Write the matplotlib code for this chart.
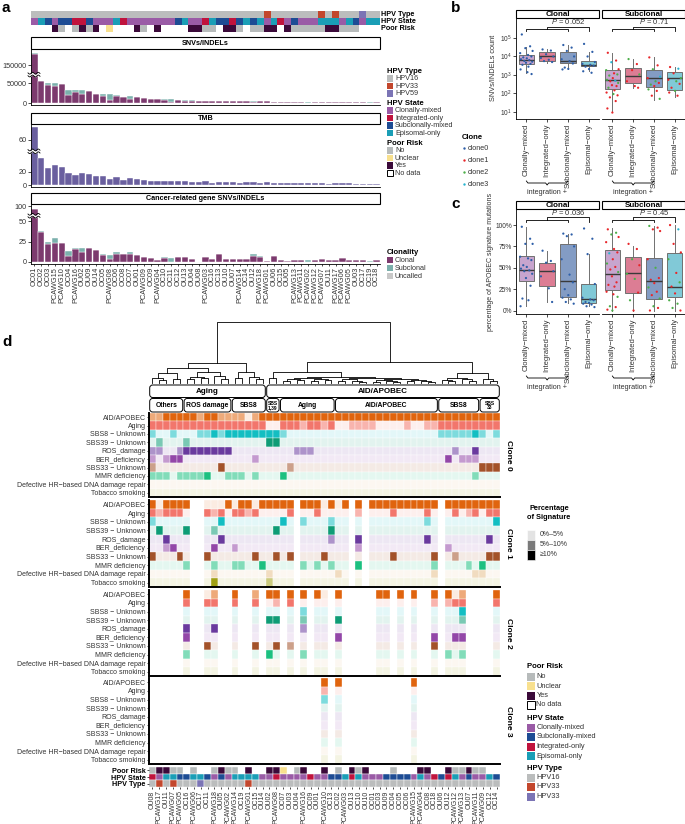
import numpy as np
import matplotlib
matplotlib.use('Agg')
import matplotlib.pyplot as plt
from matplotlib.patches import Rectangle, FancyBboxPatch
from matplotlib.colors import to_rgb, to_rgba

plt.rcParams['font.family'] = ['Liberation Sans', 'DejaVu Sans']
plt.rcParams['mathtext.fontset'] = 'custom'
plt.rcParams['mathtext.rm'] = 'Liberation Sans'
plt.rcParams['mathtext.it'] = 'Liberation Sans:italic'
plt.rcParams['axes.linewidth'] = 0.6

# ---------------- panel a data ----------------
A_SAMPLES = ['OC01', 'OC02', 'OC03', 'PCAWG15', 'PCAWG10', 'OC04', 'PCAWG16', 'OU02', 'OU09', 'OU14',
             'OC05', 'PCAWG08', 'OC06', 'OC08', 'OC07', 'OU01', 'PCAWG09', 'OC09', 'PCAWG04', 'OC10',
             'OC11', 'OC12', 'OU13', 'OU04', 'OU08', 'PCAWG03', 'OC16', 'OC13', 'OU10', 'OU07',
             'PCAWG14', 'OC14', 'OU12', 'PCAWG18', 'PCAWG01', 'OU06', 'OC15', 'OU05', 'PCAWG13', 'PCAWG11',
             'PCAWG02', 'PCAWG12', 'PCAWG07', 'OU11', 'PCAWG17', 'PCAWG06', 'PCAWG05', 'OU03', 'OC17', 'OC19', 'OC18']
A_SNV_CLONAL = [235000, 55000, 45800, 43300, 47500, 19000, 27500, 21600, 29000, 22500,
                16700, 6700, 17500, 15000, 10800, 14000, 12500, 10800, 10800, 7500,
                3300, 6700, 5800, 5800, 5500, 5500, 5300, 5000, 5000, 4800,
                4500, 4400, 3500, 3800, 4000, 3700, 3500, 3000, 3200, 3000,
                800, 2700, 2500, 2400, 2300, 2200, 2000, 1800, 1600, 400, 1300]
A_SNV_SUB = [13000, 0, 5000, 7500, 0, 14000, 4000, 10000, 0, 0,
             6600, 16600, 1500, 0, 5900, 800, 0, 0, 0, 3300,
             7500, 1600, 1000, 500, 0, 300, 0, 500, 0, 0,
             0, 0, 1200, 500, 0, 0, 0, 200, 0, 0,
             2000, 0, 0, 0, 0, 0, 0, 0, 0, 1100, 0]
A_TMB = [72, 40, 25, 30, 27.5, 17.5, 15, 17.5, 17, 13.5,
         13.5, 9, 11.5, 7.5, 10, 9, 8, 6.5, 6, 6,
         5.5, 5.5, 5.5, 5, 4.5, 6.5, 3.2, 4.5, 4.5, 4,
         3.5, 4, 4, 3.5, 4.5, 3.5, 3.2, 3.2, 3, 3,
         2.5, 2.8, 2.8, 2.2, 2.8, 2.5, 2.5, 2.2, 2.2, 2, 1.8]
A_CG_CLONAL = [88, 37, 22.5, 23.5, 24, 7, 15.5, 12, 17.5, 14.5,
               8.5, 3.5, 10, 10, 10.4, 8, 5.8, 5, 2, 5,
               0.5, 6, 5.8, 4, 0, 5.8, 4, 10, 4, 4,
               4, 4, 7, 5.8, 1, 7, 3, 0.8, 3, 2,
               0, 2, 4, 3, 3, 5, 2, 2, 3, 0, 3]
A_CG_SUB = [0, 1, 2.5, 5.5, 0, 6, 2, 5, 0, 0,
            1.5, 5.5, 1.7, 0, 1.3, 0, 0, 0, 0, 0.8,
            4.5, 0.3, 0, 0, 0, 0, 0, 0, 0, 0,
            0, 0, 2.6, 1.2, 0, 0, 0, 0, 0, 0,
            2, 0, 0, 0, 0, 0, 0, 0, 0, 1, 0]
A_HPV_TYPE = '1111111111' '1111111111' '1111111111' '1111311111' '1131311151' '1'
A_HPV_STATE = 'CESCSSIISC' 'CCEICCCCCC' 'CSECCIESSI' 'SESECEICSC' 'CCEEECESCEE'
A_POOR_RISK = '---YN-NYNY' '-U---YN-Y-' '---YYNN-YY' 'N-NNYY-YNN' 'NNNYYNNN---'

# ---------------- panel b / c data ----------------
GROUPS = ['Clonally\u2212mixed', 'Integrated\u2212only', 'Subclonally\u2212mixed', 'Episomal\u2212only']
# box stats: (whisker low, q1, median, q3, whisker high); panel b in log10 counts
B_CLONAL_STATS = [(3.10, 3.60, 3.80, 4.07, 4.52), (3.66, 3.78, 4.00, 4.26, 4.38),
                  (3.34, 3.64, 3.78, 4.26, 4.64), (3.20, 3.48, 3.55, 3.78, 4.26)]
B_CLONAL_PTS = [[5.19, 4.55, 4.45, 4.30, 4.18, 4.08, 4.00, 3.95, 3.90, 3.85, 3.80, 3.76, 3.72, 3.66, 3.60, 3.55, 3.45, 3.30, 3.15, 3.05],
                [4.38, 4.32, 4.12, 4.00, 3.92, 3.82, 3.70, 3.75],
                [4.62, 4.48, 4.30, 4.00, 3.85, 3.75, 3.62, 3.40, 3.33, 3.30],
                [4.68, 4.25, 4.00, 3.70, 3.60, 3.55, 3.50, 3.45, 3.32, 3.20, 3.12]]
B_CLONAL_CLONE = ['0' * 20, '0' * 8, '0' * 10, '0' * 11]
B_SUB_STATS = [(0.98, 2.22, 2.71, 3.26, 4.20), (2.30, 2.57, 2.97, 3.40, 3.86),
               (1.67, 2.36, 2.83, 3.29, 3.95), (1.80, 2.19, 2.83, 3.14, 3.45)]
B_SUB_PTS = [[4.20, 3.78, 3.69, 3.31, 3.26, 3.09, 3.03, 2.97, 2.83, 2.74, 2.69, 2.66, 2.57, 2.45, 2.40, 2.31, 2.17, 2.05, 1.97, 1.90, 1.79, 1.59, 1.19, 0.97],
             [3.86, 3.59, 3.26, 3.03, 2.66, 2.40, 2.31],
             [3.95, 3.52, 3.31, 2.91, 2.83, 2.66, 2.57, 2.48, 2.40, 2.22, 2.14, 1.88, 1.71],
             [3.43, 3.34, 3.09, 2.83, 2.74, 2.66, 2.52, 2.31, 2.14, 2.05, 1.88]]
B_SUB_CLONE = ['113121221231211211211111', '2112111', '1123121212112', '13121211211']
B_P = ['0.052', '0.71']

C_CLONAL_STATS = [(5, 34.5, 47, 64, 98), (10, 29, 46, 56, 70), (9, 16, 35, 78, 89), (5, 9, 13, 31, 66)]
C_CLONAL_PTS = [[98, 84, 78, 78, 63, 61, 59, 53, 51, 49, 47, 46, 43, 38, 29, 14, 12, 5],
                [70, 58, 56, 46, 40, 26, 10],
                [90, 89, 87, 75, 60, 42, 33, 25, 18, 15, 13, 10, 8],
                [96, 84, 66, 31, 15, 13, 12, 10, 9, 8, 7, 5, 4]]
C_CLONAL_CLONE = ['0' * 18, '0' * 7, '0' * 13, '0' * 13]
C_SUB_STATS = [(0, 24, 43, 71, 96), (0, 21, 44, 63, 76), (0, 14, 35, 62, 99), (0, 16, 28, 67, 100)]
C_SUB_PTS = [[95, 91, 89, 86, 80, 72, 68, 67, 60, 55, 51, 48, 45, 40, 33, 30, 28, 22, 19, 16, 5, 4, 1, 0],
             [78, 72, 60, 53, 43, 37, 21, 12, 0],
             [99, 97, 95, 93, 60, 50, 38, 36, 32, 27, 22, 18, 14, 5, 3, 0],
             [100, 95, 78, 68, 60, 44, 33, 28, 20, 12, 8, 3, 0]]
C_SUB_CLONE = ['122111131211211111122112', '112122121', '2111121112112211', '1311212112221']
C_P = ['0.036', '0.45']

# ---------------- panel d data ----------------
D_SAMPLES = ['OU08', 'PCAWG17', 'OU11', 'PCAWG07', 'PCAWG05', 'OC16', 'PCAWG06', 'OC17', 'OC11', 'PCAWG18',
             'OU05', 'PCAWG02', 'PCAWG14', 'OC19', 'PCAWG01', 'OC15', 'OU14', 'OU02', 'PCAWG08', 'OC07',
             'OU03', 'OU04', 'PCAWG16', 'OC09', 'OU01', 'PCAWG10', 'OC13', 'OC02', 'PCAWG03', 'OU13',
             'OC10', 'OU10', 'OC01', 'OC03', 'OU09', 'OC04', 'OC05', 'OC06', 'PCAWG15', 'PCAWG04',
             'OC08', 'OC18', 'OU06', 'OU12', 'PCAWG12', 'PCAWG13', 'OU07', 'PCAWG11', 'PCAWG09', 'OC12', 'OC14']
D_GROUPS = ['Aging', 'AID/APOBEC']
D_GROUP_N = [17, 34]
D_SUB = ['Others', 'ROS damage', 'SBS8', 'SBS\n1,39', 'Aging', 'AID/APOBEC', 'SBS8', 'SBS\n33']
D_SUB_N = [5, 7, 5, 2, 8, 15, 6, 3]
SIGS = ['AID/APOBEC', 'Aging', 'SBS8 \u2212 Unknown', 'SBS39 \u2212 Unknown', 'ROS_damage', 'BER_deficiency',
        'SBS33 \u2212 Unknown', 'MMR deficiency', 'Defective HR\u2212based DNA damage repair', 'Tobacco smoking']
# levels: 1 = 0-5%, 2 = 5-10%, 3 = >=10%, '.' = clone absent in sample
CLONE0 = ['2233333233' '2222123333' '3333333333' '3333333333' '33333333333',
          '3333333333' '3333333113' '3323323112' '2221111211' '22333333333',
          '2112111223' '2333333332' '1111111111' '1111111111' '11222223212',
          '1211121111' '1111111331' '1111111111' '1111111111' '11111111111',
          '2211233333' '3311111111' '1222111111' '1111111111' '11112113111',
          '2123311111' '1111121111' '1111111111' '1111111111' '11131222111',
          '2111111111' '3111111111' '2111111111' '1111111111' '11111111333',
          '2221222231' '1222121113' '1111111111' '1111111111' '11111112111',
          '1' * 51,
          '1' * 51]
CLONE1 = ['313333..11' '1313313333' '3.3331313.' '3.33333333' '33.33333333',
          '323331..32' '3133231111' '3.1131111.' '2.11131111' '31.13123133',
          '211111..11' '3111111113' '1.2111211.' '1.11111111' '21.11111113',
          '131113..12' '1111111131' '1.1111311.' '1.11111111' '11.11111111',
          '113111..11' '3111111111' '1.1111211.' '3.11111111' '31.11111131',
          '112311..13' '1121111111' '1.1111111.' '2.11111111' '11.21111111',
          '311131..31' '1111131131' '3.1113111.' '1.11131111' '13.12111133',
          '111112..12' '1122113111' '1.2121211.' '3.11111111' '12.11121311',
          '111111..12' '1111111211' '1.1111121.' '1.11111111' '12.11112211',
          '111111..13' '1111111211' '1.1111111.' '1.11111111' '11.11111111']
CLONE2_MASK = '.....x..xx' '..x..x.xx.' 'x.x.xx.x..' '...xx.x.x.' '.x.xxx....x'
CLONE2 = [{5: 3, 8: 1, 9: 2, 12: 3, 15: 2, 17: 3, 18: 3, 20: 3, 22: 3, 24: 3, 25: 1, 27: 3,
           33: 3, 34: 3, 36: 3, 38: 3, 41: 3, 43: 3, 44: 1, 45: 2, 50: 3},
          {5: 3, 8: 3, 9: 3, 12: 3, 15: 3, 18: 2, 20: 3, 41: 2, 43: 2, 44: 3, 45: 3, 50: 3},
          {22: 2, 45: 3},
          {17: 3, 18: 3, 22: 2, 27: 3, 45: 2},
          {5: 3, 9: 3, 22: 2},
          {5: 3, 27: 3, 41: 3, 44: 3, 45: 3},
          {8: 3, 15: 3, 18: 3, 20: 2, 41: 3},
          {5: 2, 17: 3, 22: 2, 43: 2, 45: 2},
          {}, {}]
CLONE3_MASK = '..........' '..........' '.....x.x..' '........x.' '...........'
CLONE3 = [{25: 3, 27: 3, 38: 3}, {25: 2}, {25: 2}, {}, {}, {}, {}, {}, {}, {}]
D_POOR_RISK = 'NYYNN-N--N' 'YNN-Y--YYU' '-NY--Y-N-Y' 'NY---N---Y' 'Y--YNNYNN--'
D_HPV_STATE = 'ICEESSEESC' 'SCEEEECCIC' 'CCCICCSSEI' 'ECCCSSSSCE' 'CISIECSCCES'
D_HPV_TYPE = '1313111511' '1111311111' '1111111111' '1111111111' '11111111111'

# dendrogram: (merge height, left, right); None = leaf
L = None
T_OTHERS = (0.16, (0.09, L, (0.05, L, L)), (0.07, L, L))
T_ROS = (0.18, (0.10, (0.06, L, L), (0.08, L, L)), (0.12, L, (0.07, L, L)))
T_SBS8A = (0.18, (0.08, L, L), (0.10, L, (0.06, L, L)))
T_SBS139 = (0.08, L, L)
T_AGING = (0.09, (0.07, (0.04, L, L), (0.05, L, L)), (0.06, (0.03, L, L), (0.05, L, L)))
T_AID = (0.08, (0.06, (0.03, L, L), (0.04, L, (0.02, L, L))),
         (0.07, (0.05, (0.02, L, L), (0.03, L, (0.015, L, L))), (0.05, (0.03, L, L), (0.04, L, (0.02, L, L)))))
T_SBS8B = (0.09, (0.05, L, (0.03, L, L)), (0.06, L, (0.04, L, L)))
T_SBS33 = (0.07, L, (0.04, L, L))
TREE = (1.0, (0.33, (0.25, T_OTHERS, T_ROS), T_SBS8A),
        (0.34, (0.18, T_SBS139, (0.10, T_AGING, T_AID)), (0.16, T_SBS8B, T_SBS33)))

# ---------------- colours ----------------
TYPE_COL = {'1': '#BBBDBD', '3': '#C3472D', '5': '#7B74B5'}
STATE_COL = {'C': '#9A5BA6', 'I': '#C0133D', 'S': '#1D4C94', 'E': '#1A9EB6'}
RISK_COL = {'N': '#B7BBBB', 'U': '#F8E08E', 'Y': '#3B0A3A', '-': None}
STATE_ORDER = ['C', 'I', 'S', 'E']
CLONE_COL = ['#2E5FA8', '#E8262A', '#4DAF4A', '#27B4D0']
CLONAL_C, SUBCLONAL_C, UNCALLED_C = '#7C3A6E', '#7BB0AC', '#C8C8C8'
TMB_C = '#6A5F9F'
SIG_FULL = ['#E0640E', '#F2766C', '#13BEC2', '#0E9C76', '#6A3A9E', '#9347A8', '#A3522A', '#1CC080', '#E6BF8C', '#A0A014']
JIT = [-0.22, 0.18, -0.05, 0.3, -0.3, 0.08, 0.24, -0.15, 0.02, -0.26, 0.14, -0.1, 0.28, -0.02,
       0.2, -0.19, 0.1, -0.28, 0.05, 0.25, -0.12, 0.16, -0.24, 0.0]
TXT = '#333333'

W, H = 685, 824
fig = plt.figure(figsize=(W / 100, H / 100), dpi=100)
ov = fig.add_axes([0, 0, 1, 1], zorder=20)
ov.set_xlim(0, W)
ov.set_ylim(H, 0)
ov.axis('off')


def add_ax(x0, y0, x1, y1):
    return fig.add_axes([x0 / W, 1 - y1 / H, (x1 - x0) / W, (y1 - y0) / H])


def strip(x0, y0, x1, y1, label, fs=5.2):
    ov.add_patch(Rectangle((x0, y0), x1 - x0, y1 - y0, fc='white', ec='black', lw=0.8))
    ov.text((x0 + x1) / 2, (y0 + y1) / 2 + 0.3, label, ha='center', va='center', fontsize=fs, fontweight='bold')


def legend_block(x, y, title, labels, colors, step, sw, fs=5.2, edges=None):
    ov.text(x, y, title, fontsize=fs + 0.3, fontweight='bold', va='center', ha='left')
    for i, (lab, col) in enumerate(zip(labels, colors)):
        yy = y + step * (i + 1)
        ec = 'black' if (edges and edges[i]) else 'none'
        ov.add_patch(Rectangle((x, yy - sw / 2), sw, sw, fc=col if col else 'white', ec=ec, lw=0.7))
        ov.text(x + sw + 1.5, yy, lab, fontsize=fs, va='center', ha='left', color=TXT)


def squiggle(xc, yc):
    t = np.linspace(-6, 6, 40)
    w = 0.9 * np.sin(t * 1.1)
    ov.fill_between(t + xc, yc - 1.4 + w, yc + 1.4 + w, color='white', lw=0)
    for dy in (-1.4, 1.4):
        ov.plot(t + xc, yc + dy + w, color='black', lw=0.6)


def brk(v, b, k):
    v = np.asarray(v, float)
    return np.where(v <= b, v, b + (v - b) * k)


# ================= panel a =================
for lab, xy in (('a', (2, 8)), ('b', (451, 8)), ('c', (451, 204)), ('d', (2, 342))):
    ov.text(xy[0], xy[1], lab, fontsize=11, fontweight='bold', va='center', ha='left')

xa = np.arange(len(A_SAMPLES))
ann = add_ax(31, 11, 380, 32)
ann.set_xlim(-0.5, 50.5)
ann.set_ylim(3, 0)
ann.axis('off')
for r, cols in enumerate([[TYPE_COL[c] for c in A_HPV_TYPE], [STATE_COL[c] for c in A_HPV_STATE],
                          [RISK_COL[c] for c in A_POOR_RISK]]):
    for i, col in enumerate(cols):
        if col is not None:
            ann.add_patch(Rectangle((i - 0.5, r), 1, 1, fc=col, ec='none'))
for r, lab in enumerate(['HPV Type', 'HPV State', 'Poor Risk']):
    ov.text(381, 14.5 + 7 * r, lab, fontsize=5.2, fontweight='bold', va='center', ha='left')


def style_a(ax, ylim, ticks, labels):
    ax.set_xlim(-0.5, 50.5)
    ax.set_ylim(*ylim)
    for s in ('top', 'right'):
        ax.spines[s].set_visible(False)
    ax.set_yticks(ticks)
    ax.set_yticklabels(labels)
    ax.tick_params(axis='y', length=2, width=0.5, labelsize=5.2, pad=1, labelcolor=TXT)
    ax.set_xticks([])


def break_y(ax, val):
    return H - ax.transData.transform((0, val))[1]


# SNVs/INDELs
strip(31, 37, 380, 49, 'SNVs/INDELs')
ax_snv = add_ax(31, 49, 380, 104.5)
b1, k1 = 70000, 0.3125
c1 = brk(A_SNV_CLONAL, b1, k1)
c2 = brk(np.add(A_SNV_CLONAL, A_SNV_SUB), b1, k1)
ax_snv.bar(xa, c1, width=0.92, color=CLONAL_C, edgecolor='white', lw=0.3)
ax_snv.bar(xa, c2 - c1, bottom=c1, width=0.92, color=SUBCLONAL_C, edgecolor='white', lw=0.3)
style_a(ax_snv, (-3750, 135000), brk([0, 50000, 150000], b1, k1), ['0', '50000', '150000'])
squiggle(34, break_y(ax_snv, 71000))

# TMB
strip(31, 113, 380, 124, 'TMB')
ax_tmb = add_ax(31, 124, 380, 186.5)
b2, k2 = 48, 1.625
ax_tmb.bar(xa, brk(A_TMB, b2, k2), width=0.92, color=TMB_C, edgecolor='white', lw=0.3)
style_a(ax_tmb, (-2.25, 91.5), brk([0, 20, 60], b2, k2), ['0', '20', '60'])
squiggle(34, break_y(ax_tmb, 50.5))

# cancer-related genes
strip(31, 193, 380, 204, 'Cancer-related gene SNVs/INDELs')
ax_cg = add_ax(31, 204, 380, 263.5)
b3, k3 = 56, 0.286
g1 = brk(A_CG_CLONAL, b3, k3)
g2 = brk(np.add(A_CG_CLONAL, A_CG_SUB), b3, k3)
ax_cg.bar(xa, g1, width=0.92, color=CLONAL_C, edgecolor='white', lw=0.3)
ax_cg.bar(xa, g2 - g1, bottom=g1, width=0.92, color=SUBCLONAL_C, edgecolor='white', lw=0.3)
style_a(ax_cg, (-1.85, 71.4), brk([0, 25, 50, 100], b3, k3), ['0', '25', '50', '100'])
ax_cg.set_xticks(xa)
ax_cg.set_xticklabels(A_SAMPLES, rotation=90, fontsize=5.3, color=TXT)
ax_cg.tick_params(axis='x', length=1.5, width=0.5, pad=1)
squiggle(34, break_y(ax_cg, 57))

# legends of panel a
legend_block(387, 71, 'HPV Type', ['HPV16', 'HPV33', 'HPV59'], [TYPE_COL['1'], TYPE_COL['3'], TYPE_COL['5']], 7.5, 6.5)
legend_block(387, 103, 'HPV State', ['Clonally-mixed', 'Integrated-only', 'Subclonally-mixed', 'Episomal-only'],
             [STATE_COL[s] for s in STATE_ORDER], 7.5, 6.5)
legend_block(387, 143, 'Poor Risk', ['No', 'Unclear', 'Yes', 'No data'],
             [RISK_COL['N'], RISK_COL['U'], RISK_COL['Y'], None], 7.5, 6.5, edges=[0, 0, 0, 1])
legend_block(387, 252, 'Clonality', ['Clonal', 'Subclonal', 'Uncalled'], [CLONAL_C, SUBCLONAL_C, UNCALLED_C], 8, 6.5)

# clone legend
ov.text(462, 137, 'Clone', fontsize=5.5, fontweight='bold', va='center')
for i in range(4):
    ov.scatter(464, 148 + 12 * i, s=3, color=CLONE_COL[i], lw=0)
    ov.text(467.5, 148 + 12 * i, 'clone%d' % i, fontsize=5.2, va='center', color=TXT)


# ================= panels b, c =================
def box_panel(ax, stats, pts, clones, ylim, left):
    ax.set_xlim(-0.5, 3.5)
    ax.set_ylim(*ylim)
    bx = [dict(whislo=s[0], q1=s[1], med=s[2], q3=s[3], whishi=s[4], fliers=[]) for s in stats]
    art = ax.bxp(bx, positions=range(4), widths=0.75, patch_artist=True, showfliers=False, showcaps=False,
                 boxprops=dict(edgecolor='#707070', linewidth=0.7),
                 whiskerprops=dict(color='#707070', linewidth=0.7),
                 medianprops=dict(color='#3a3a3a', linewidth=1.0))
    for p, s in zip(art['boxes'], STATE_ORDER):
        p.set_facecolor(to_rgba(STATE_COL[s], 0.55))
    for g in range(4):
        xs = [g + JIT[i % len(JIT)] for i in range(len(pts[g]))]
        cs = [CLONE_COL[int(k)] for k in clones[g]]
        ax.scatter(xs, pts[g], s=2.6, c=cs, lw=0, zorder=3)
    for s in ('top', 'right'):
        ax.spines[s].set_visible(False)
    if not left:
        ax.spines['left'].set_visible(False)
        ax.set_yticks([])
    ax.set_xticks(range(4))
    ax.set_xticklabels(GROUPS, rotation=90, fontsize=5.5, color=TXT)
    ax.tick_params(axis='x', length=2, width=0.5, pad=1.5)
    ax.tick_params(axis='y', length=2, width=0.5, pad=1, labelsize=4.8, labelcolor=TXT)


def pbracket(ax, p, yt, yb, yc, ye):
    tr = ax.get_xaxis_transform()
    ax.plot([0, 0, 2, 2], [ye, yc, yc, ye], color='black', lw=0.6, transform=tr, clip_on=False)
    ax.plot([1, 1, 3, 3], [yc, yb, yb, ye], color='black', lw=0.6, transform=tr, clip_on=False)
    ax.text(2, yt, r'$\it{P}$ = ' + p, transform=tr, ha='center', va='center', fontsize=5.5, color=TXT)


def brace(ax, y):
    x0, xc, x1 = [ax.transData.transform((g, 0))[0] for g in (0, 1, 2)]
    ov.plot([x0, x0 + 1.5, xc - 1.5, xc, xc + 1.5, x1 - 1.5, x1], [y, y + 2, y + 2, y + 4, y + 2, y + 2, y],
            color='black', lw=0.6)
    ov.text(xc, y + 11, 'integration +', ha='center', va='center', fontsize=5.2, color=TXT)


panels = [
    (18, 119, 10, B_CLONAL_STATS, B_CLONAL_PTS, B_CLONAL_CLONE, B_SUB_STATS, B_SUB_PTS, B_SUB_CLONE,
     (0.62, 6.08), B_P, (0.97, 0.911, 0.891, 0.871), 181),
    (209, 313.5, 201, C_CLONAL_STATS, C_CLONAL_PTS, C_CLONAL_CLONE, C_SUB_STATS, C_SUB_PTS, C_SUB_CLONE,
     (-3.5, 118.8), C_P, (0.971, 0.923, 0.895, 0.876), 376),
]
for k, (y0, y1, ys, cst, cpt, ccl, sst, spt, scl, ylim, pv, br, by) in enumerate(panels):
    strip(516, ys, 599, y0, 'Clonal', fs=5.8)
    strip(602, ys, 685, y0, 'Subclonal', fs=5.8)
    axl = add_ax(516, y0, 599, y1)
    axr = add_ax(602, y0, 685, y1)
    box_panel(axl, cst, cpt, ccl, ylim, True)
    box_panel(axr, sst, spt, scl, ylim, False)
    pbracket(axl, pv[0], *br)
    pbracket(axr, pv[1], *br)
    if k == 0:
        axl.set_yticks([1, 2, 3, 4, 5])
        axl.set_yticklabels(['$10^{%d}$' % i for i in range(1, 6)])
        ov.text(494, 68, 'SNVs/INDELs count', rotation=90, ha='center', va='center', fontsize=5.3, color=TXT)
    else:
        axl.set_yticks([0, 25, 50, 75, 100])
        axl.set_yticklabels(['0%', '25%', '50%', '75%', '100%'])
        ov.text(491, 262, 'percentage of APOBEC signature mutations', rotation=90, ha='center', va='center',
                fontsize=5, color=TXT)
    brace(axl, by)
    brace(axr, by)

# ================= panel d =================
D_X0, D_X1 = 149, 500
NCOL = len(D_SAMPLES)
pitch = (D_X1 - D_X0) / NCOL

# dendrogram
axd = add_ax(D_X0, 318, D_X1, 384)
axd.set_xlim(-0.5, NCOL - 0.5)
axd.set_ylim(-1 / 61, 65 / 61)
axd.axis('off')
segs = []
counter = [0]


def layout(node):
    if node is None:
        x = counter[0]
        counter[0] += 1
        return x, 0.0
    h, a, b = node
    xa_, ha = layout(a)
    xb_, hb = layout(b)
    segs.append(([xa_, xa_, xb_, xb_], [ha, h, h, hb]))
    return (xa_ + xb_) / 2, h


layout(TREE)
for sx, sy in segs:
    axd.plot(sx, sy, color='black', lw=0.6)


def rbox(x0, x1, y0, y1, label, fs):
    ov.add_patch(FancyBboxPatch((x0 + 0.7, y0), x1 - x0 - 1.4, y1 - y0,
                                boxstyle='round,pad=0,rounding_size=3', fc='white', ec='black', lw=0.7))
    ov.text((x0 + x1) / 2, (y0 + y1) / 2 + 0.3, label, ha='center', va='center', fontsize=fs,
            fontweight='bold', linespacing=0.8)


cum = 0
for lab, n in zip(D_GROUPS, D_GROUP_N):
    rbox(D_X0 + cum * pitch, D_X0 + (cum + n) * pitch, 385, 397.5, lab, 5.8)
    cum += n
cum = 0
for lab, n in zip(D_SUB, D_SUB_N):
    rbox(D_X0 + cum * pitch, D_X0 + (cum + n) * pitch, 398.5, 412, lab, 3.6 if n < 4 else 4.9)
    cum += n


def shade(col, lev):
    r, g, b = to_rgb(col)
    f = {'1': 0.12, '2': 0.55, '3': 1.0}[lev]
    return (1 - f + f * r, 1 - f + f * g, 1 - f + f * b)


def expand(mask, changes):
    rows = []
    for ch in changes:
        rows.append(''.join('.' if m == '.' else str(ch.get(i, 1)) for i, m in enumerate(mask)))
    return rows


CLONES = [CLONE0, CLONE1, expand(CLONE2_MASK, CLONE2), expand(CLONE3_MASK, CLONE3)]
BLOCKS = [(413, 497), (500, 587), (590, 676), (678, 764)]
for ci, (rows, (y0, y1)) in enumerate(zip(CLONES, BLOCKS)):
    ax = add_ax(D_X0, y0, D_X1, y1)
    ax.set_xlim(-0.5, NCOL - 0.5)
    ax.set_ylim(9.5, -0.5)
    for r, row in enumerate(rows):
        for c, lev in enumerate(row):
            if lev != '.':
                ax.add_patch(Rectangle((c - 0.5, r - 0.5), 1, 1, fc=shade(SIG_FULL[r], lev), ec='white', lw=0.25))
    for s in ('top', 'right'):
        ax.spines[s].set_visible(False)
    for s in ('left', 'bottom'):
        ax.spines[s].set_linewidth(1.4)
    ax.set_xticks([])
    ax.set_yticks(range(10))
    ax.set_yticklabels(SIGS, fontsize=5, color=TXT)
    ax.tick_params(axis='y', length=1.5, width=0.5, pad=1)
    ov.text(509, (y0 + y1) / 2, 'Clone %d' % ci, rotation=270, ha='center', va='center', fontsize=6,
            fontweight='bold')

# bottom annotation
axb = add_ax(D_X0, 767, D_X1, 787)
axb.set_xlim(-0.5, NCOL - 0.5)
axb.set_ylim(3, 0)
for r, cols in enumerate([[RISK_COL[c] for c in D_POOR_RISK], [STATE_COL[c] for c in D_HPV_STATE],
                          [TYPE_COL[c] for c in D_HPV_TYPE]]):
    for i, col in enumerate(cols):
        if col is not None:
            axb.add_patch(Rectangle((i - 0.5, r), 1, 1, fc=col, ec='white', lw=0.3))
for s in axb.spines.values():
    s.set_visible(False)
axb.set_yticks([0.5, 1.5, 2.5])
axb.set_yticklabels(['Poor Risk', 'HPV State', 'HPV Type'], fontsize=5.2, fontweight='bold')
axb.set_xticks(range(NCOL))
axb.set_xticklabels(D_SAMPLES, rotation=90, fontsize=5, color=TXT)
axb.tick_params(axis='both', length=1.5, width=0.5, pad=1)

# legends panel d
ov.text(549, 513, 'Percentage\nof Signature', ha='center', va='center', fontsize=5.3, fontweight='bold',
        linespacing=1.3)
for i, (lab, col) in enumerate(zip(['0%\u20135%', '5%\u201310%', '\u226510%'], ['#E3E3E3', '#7A7A7A', '#000000'])):
    ov.add_patch(Rectangle((527, 530 + 10 * i), 8, 10, fc=col, ec='white', lw=0.4))
    ov.text(540, 535 + 10 * i, lab, fontsize=5, va='center', color=TXT)
legend_block(527, 667, 'Poor Risk', ['No', 'Unclear', 'Yes', 'No data'],
             [RISK_COL['N'], RISK_COL['U'], RISK_COL['Y'], None], 9.5, 8, fs=5.3, edges=[0, 0, 0, 1])
legend_block(527, 718, 'HPV State', ['Clonally-mixed', 'Subclonally-mixed', 'Integrated-only', 'Episomal-only'],
             [STATE_COL['C'], STATE_COL['S'], STATE_COL['I'], STATE_COL['E']], 9.5, 8, fs=5.3)
legend_block(527, 768, 'HPV Type', ['HPV16', 'HPV33', 'HPV33'], [TYPE_COL['1'], TYPE_COL['3'], TYPE_COL['5']],
             9.5, 8, fs=5.3)

fig.savefig('out.png', dpi=100)
